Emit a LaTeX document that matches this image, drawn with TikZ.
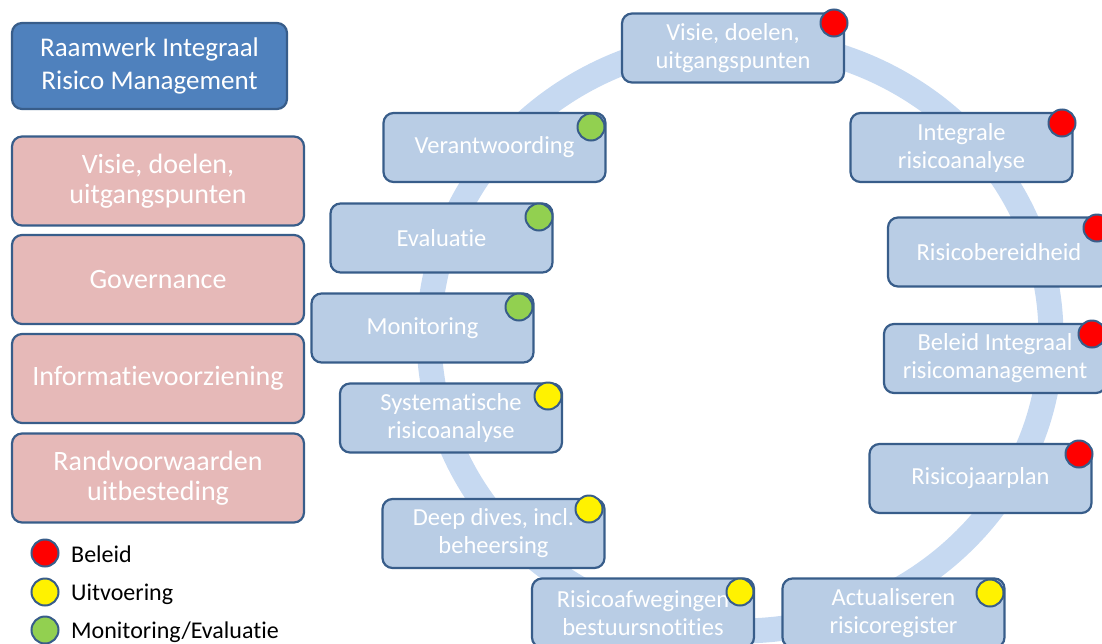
\documentclass[tikz,border=0pt]{standalone}
\usepackage{fontspec}
\setmainfont{Carlito}[Ligatures={NoCommon,NoRequired,NoContextual}]
\definecolor{ringc}{HTML}{C6D9F1}
\definecolor{boxb}{HTML}{B9CDE5}
\definecolor{edge}{HTML}{385D8A}
\definecolor{titlef}{HTML}{4F81BD}
\definecolor{pinkf}{HTML}{E6B9B8}
\definecolor{greenf}{HTML}{92D050}
\tikzset{
  base/.style={rounded corners=10pt, draw=edge, line width=2.2pt, align=center, text=white, inner sep=0pt},
  titlebox/.style={base, fill=titlef, minimum width=275pt, minimum height=86pt, font=\fontsize{27}{32.7}\selectfont},
  pinkbox/.style={base, fill=pinkf, minimum width=292pt, minimum height=89pt, font=\fontsize{28}{29.5}\selectfont},
  stepbox/.style={base, fill=boxb, minimum width=222pt, minimum height=69pt, font=\fontsize{24.5}{28}\selectfont},
  dot/.style={circle, draw=edge, line width=2pt, minimum size=27pt, inner sep=0pt},
  legtext/.style={anchor=base west, inner sep=0pt, font=\fontsize{24}{28}\selectfont, text=black}
}
\begin{document}
\begin{tikzpicture}[x=1pt,y=-1pt]
\useasboundingbox (0,0) rectangle (1102,643);
% ring
\draw[line width=25pt, ringc] (740,336) ellipse [x radius=311pt, y radius=295pt];
% left column
\node[titlebox] (title) at (149.5,66) {Raamwerk Integraal\\Risico Management};
\node[pinkbox] (p1) at (158,181) {Visie, doelen,\\uitgangspunten};
\node[pinkbox] (p2) at (158,279.5) {Governance};
\node[pinkbox] (p3) at (158,378.5) {Informatievoorziening};
\node[pinkbox] (p4) at (158,478) {Randvoorwaarden\\uitbesteding};
% legend
\node[dot, fill=red] (l1) at (45,553) {};
\node[dot, fill=yellow] (l2) at (45,592) {};
\node[dot, fill=greenf] (l3) at (45,630) {};
\node[legtext] (t1) at (71,562) {Beleid};
\node[legtext] (t2) at (71,600.5) {Uitvoering};
\node[legtext] (t3) at (71,638.5) {Monitoring/Evaluatie};
% cycle steps
\node[stepbox] (vis) at (733,48) {Visie, doelen,\\uitgangspunten};
\node[stepbox] (int) at (961.5,147.5) {Integrale\\risicoanalyse};
\node[stepbox] (ber) at (999,252) {Risicobereidheid};
\node[stepbox] (bel) at (995,358.5) {Beleid Integraal\\risicomanagement};
\node[stepbox] (jaar) at (980.5,478.5) {Risicojaarplan};
\node[stepbox] (act) at (893.5,613) {Actualiseren\\risicoregister};
\node[stepbox] (afw) at (643,613) {Risicoafwegingen\\bestuursnotities};
\node[stepbox] (deep) at (493.5,533.5) {Deep dives, incl.\\beheersing};
\node[stepbox] (sys) at (451,418) {Systematische\\risicoanalyse};
\node[stepbox] (mon) at (422.5,328) {Monitoring};
\node[stepbox] (eva) at (441.5,238) {Evaluatie};
\node[stepbox] (ver) at (494.5,147.5) {Verantwoording};
% markers
\node[dot, fill=red] (visd) at (834,23) {};
\node[dot, fill=red] (intd) at (1062,123) {};
\node[dot, fill=red] (berd) at (1097,228) {};
\node[dot, fill=red] (beld) at (1092,334) {};
\node[dot, fill=red] (jaard) at (1079,454) {};
\node[dot, fill=yellow] (actd) at (990,593) {};
\node[dot, fill=yellow] (afwd) at (740,592) {};
\node[dot, fill=yellow] (deepd) at (589,509) {};
\node[dot, fill=yellow] (sysd) at (548,396) {};
\node[dot, fill=greenf] (mond) at (519,307) {};
\node[dot, fill=greenf] (evad) at (539,217) {};
\node[dot, fill=greenf] (verd) at (591,127) {};
\end{tikzpicture}
\end{document}
